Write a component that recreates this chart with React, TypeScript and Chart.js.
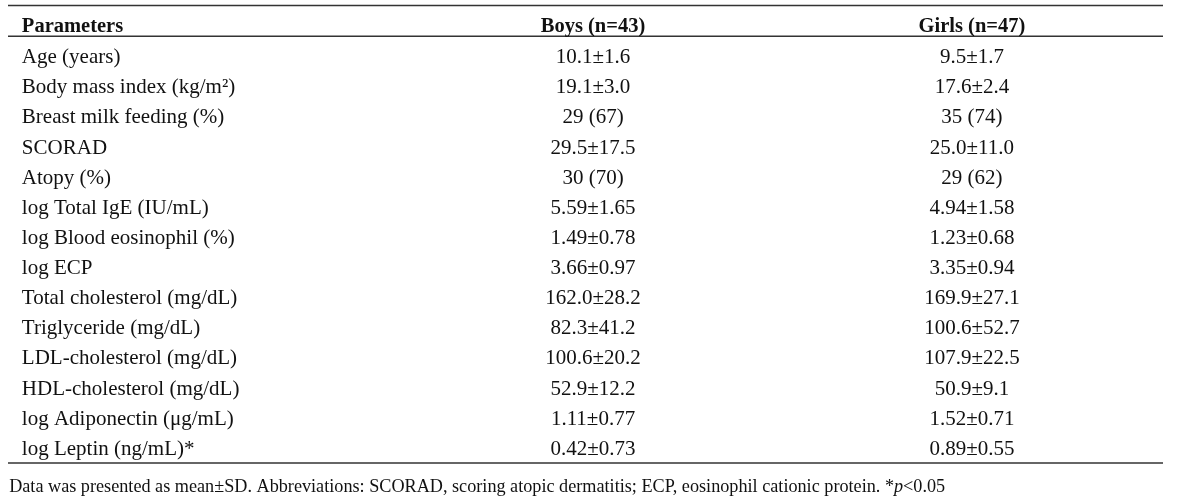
import React, { useEffect, useRef } from "react";
import { Chart, registerables } from "chart.js";

Chart.register(...registerables);

const headers = ["Parameters", "Boys (n=43)", "Girls (n=47)"];
const parameters = [
  "Age (years)",
  "Body mass index (kg/m²)",
  "Breast milk feeding (%)",
  "SCORAD",
  "Atopy (%)",
  "log Total IgE (IU/mL)",
  "log Blood eosinophil (%)",
  "log ECP",
  "Total cholesterol (mg/dL)",
  "Triglyceride (mg/dL)",
  "LDL-cholesterol (mg/dL)",
  "HDL-cholesterol (mg/dL)",
  "log Adiponectin (μg/mL)",
  "log Leptin (ng/mL)*",
];
const boysValues = [
  "10.1±1.6",
  "19.1±3.0",
  "29 (67)",
  "29.5±17.5",
  "30 (70)",
  "5.59±1.65",
  "1.49±0.78",
  "3.66±0.97",
  "162.0±28.2",
  "82.3±41.2",
  "100.6±20.2",
  "52.9±12.2",
  "1.11±0.77",
  "0.42±0.73",
];
const girlsValues = [
  "9.5±1.7",
  "17.6±2.4",
  "35 (74)",
  "25.0±11.0",
  "29 (62)",
  "4.94±1.58",
  "1.23±0.68",
  "3.35±0.94",
  "169.9±27.1",
  "100.6±52.7",
  "107.9±22.5",
  "50.9±9.1",
  "1.52±0.71",
  "0.89±0.55",
];
const footnoteParts = [
  { text: "Data was presented as mean±SD. Abbreviations: SCORAD, scoring atopic dermatitis; ECP, eosinophil cationic protein. *", italic: false },
  { text: "p", italic: true },
  { text: "<0.05", italic: false },
];

// layout in scale units
const COL_X = [0.012, 0.5065, 0.8346];
const HEADER_ROW = -0.05;
const RULE_ROWS = [-0.92, 0.1, 14.27];
const FOOT_ROW = 15.25;
const FOOT_X = 0.001;

const FONT = "'Liberation Serif', 'Times New Roman', serif";

const tablePlugin = {
  id: "tablePlugin",
  afterDraw(chart: any) {
    const { ctx, scales } = chart;
    const xs = scales.x;
    const ys = scales.y;
    const px = (v: number) => xs.getPixelForValue(v);
    const py = (v: number) => ys.getPixelForValue(v);
    ctx.save();
    // rules
    ctx.strokeStyle = "#333";
    ctx.lineWidth = 1.5;
    RULE_ROWS.forEach((r) => {
      const y = py(r);
      ctx.beginPath();
      ctx.moveTo(px(0), y);
      ctx.lineTo(px(1), y);
      ctx.stroke();
    });
    ctx.fillStyle = "#111";
    ctx.textBaseline = "alphabetic";
    // header
    ctx.font = `bold 20.5px ${FONT}`;
    headers.forEach((h, c) => {
      ctx.textAlign = c === 0 ? "left" : "center";
      ctx.fillText(h, px(COL_X[c]), py(HEADER_ROW));
    });
    // body
    ctx.font = `21px ${FONT}`;
    parameters.forEach((p, i) => {
      const y = py(i + 1);
      ctx.textAlign = "left";
      ctx.fillText(p, px(COL_X[0]), y);
      ctx.textAlign = "center";
      ctx.fillText(boysValues[i], px(COL_X[1]), y);
      ctx.fillText(girlsValues[i], px(COL_X[2]), y);
    });
    // footnote
    ctx.textAlign = "left";
    let x = px(FOOT_X);
    const fy = py(FOOT_ROW);
    footnoteParts.forEach((part) => {
      ctx.font = `${part.italic ? "italic " : ""}18.2px ${FONT}`;
      ctx.fillText(part.text, x, fy);
      x += ctx.measureText(part.text).width;
    });
    ctx.restore();
  },
};

export default function App() {
  const ref = useRef<HTMLCanvasElement | null>(null);
  useEffect(() => {
    if (!ref.current) return;
    const chart = new Chart(ref.current, {
      type: "scatter",
      data: { datasets: [{ data: [], pointRadius: 0 }] },
      options: {
        animation: false,
        responsive: true,
        maintainAspectRatio: false,
        layout: { padding: { left: 8, right: 25, top: 3, bottom: 3 } },
        plugins: { legend: { display: false }, tooltip: { enabled: false } },
        scales: {
          x: { type: "linear", min: 0, max: 1, display: false },
          y: { type: "linear", min: -1, max: 15.5, reverse: true, display: false },
        },
      },
      plugins: [tablePlugin],
    });
    return () => chart.destroy();
  }, []);
  return (
    <div style={{ position: "absolute", left: 0, top: 0, width: 1188, height: 503, background: "#fff" }}>
      <canvas ref={ref} />
    </div>
  );
}
